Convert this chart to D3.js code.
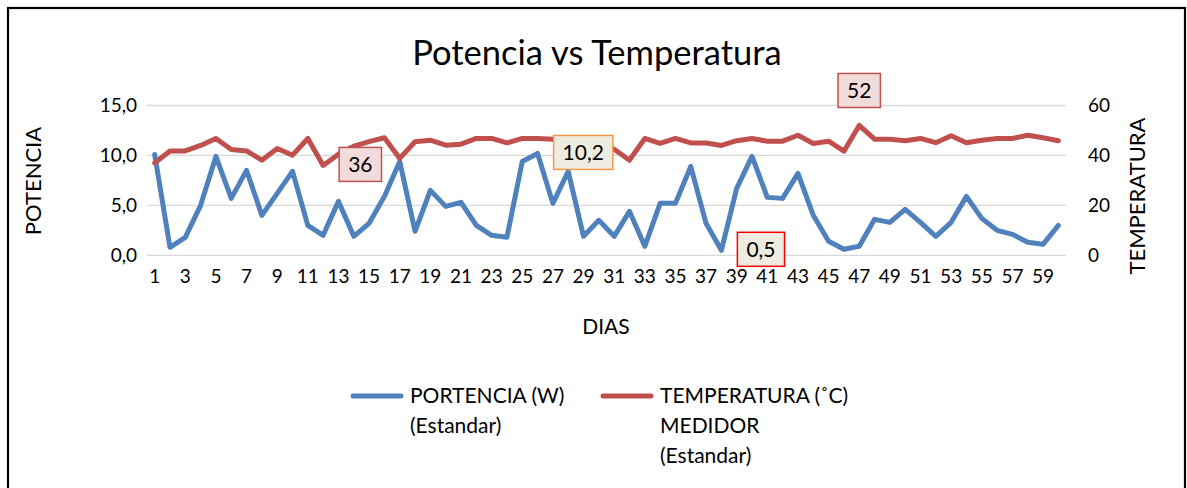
<!DOCTYPE html>
<html>
<head>
<meta charset="utf-8">
<script src="https://cdn.jsdelivr.net/npm/d3@7/dist/d3.min.js"></script>
<style>
  html, body { margin: 0; padding: 0; background: #fff; }
  svg text { font-family: Lato, "Open Sans", sans-serif; fill: #000; }
</style>
</head>
<body>
<svg id="chart" width="1187" height="488"></svg>
<script>
// Days 1..60
const days = d3.range(1, 61);

// Power (W), left axis
const potencia = [
  10.1, 0.8, 1.8, 5.0, 9.9, 5.7, 8.5, 4.0, 6.2, 8.4,
  3.0, 2.0, 5.4, 1.9, 3.2, 5.9, 9.4, 2.4, 6.5, 4.9,
  5.3, 3.0, 2.0, 1.8, 9.4, 10.2, 5.2, 8.4, 1.9, 3.5,
  1.9, 4.4, 0.9, 5.2, 5.2, 8.9, 3.2, 0.5, 6.7, 9.9,
  5.8, 5.7, 8.2, 4.0, 1.4, 0.6, 0.9, 3.6, 3.3, 4.6,
  3.3, 1.9, 3.3, 5.9, 3.7, 2.5, 2.1, 1.3, 1.1, 3.0
];

// Meter temperature (°C), right axis
const temperatura = [
  37.0, 41.8, 41.8, 44.0, 46.8, 42.4, 41.8, 38.1, 42.8, 40.1,
  46.8, 36.0, 40.5, 43.7, 45.5, 47.1, 38.8, 45.5, 46.1, 44.1,
  44.5, 46.8, 46.8, 45.0, 46.8, 46.8, 46.5, 46.3, 45.5, 45.0,
  42.5, 38.1, 46.8, 44.8, 46.8, 45.0, 45.0, 44.0, 45.9, 46.8,
  45.7, 45.7, 48.1, 44.8, 45.7, 41.7, 52.0, 46.5, 46.5, 45.9,
  46.8, 45.1, 47.9, 45.1, 46.1, 46.8, 46.8, 48.1, 47.1, 45.9
];

const leftTicks = [0, 5, 10, 15];
const rightTicks = [0, 20, 40, 60];

// Data labels: series, day, text
const labelSeries = ["temp", "pot", "pot", "temp"];
const labelDays = [12, 26, 38, 47];
const labelTexts = ["36", "10,2", "0,5", "52"];

const svg = d3.select("#chart");

// outer frame
svg.append("rect")
  .attr("x", 8).attr("y", 8)
  .attr("width", 1177).attr("height", 500)
  .attr("fill", "#fff").attr("stroke", "#000").attr("stroke-width", 2.2);

const plot = { left: 147, right: 1066, top: 105.5, bottom: 255.3 };

const x = d3.scaleBand().domain(days).range([plot.left, plot.right]);
const yL = d3.scaleLinear().domain([0, 15]).range([plot.bottom, plot.top]);
const yR = d3.scaleLinear().domain([0, 60]).range([plot.bottom, plot.top]);
const cx = d => x(d) + x.bandwidth() / 2;

// title
svg.append("text")
  .attr("x", 597).attr("y", 65)
  .attr("text-anchor", "middle")
  .attr("font-size", 34.5)
  .text("Potencia vs Temperatura");

// gridlines
svg.append("g").selectAll("line").data(leftTicks).join("line")
  .attr("x1", plot.left).attr("x2", plot.right)
  .attr("y1", d => yL(d)).attr("y2", d => yL(d))
  .attr("stroke", "#d9d9d9").attr("stroke-width", 1.3);

// left axis
const fmt = d3.format(".1f");
const axL = svg.append("g")
  .attr("transform", `translate(${plot.left},0)`)
  .call(d3.axisLeft(yL).tickValues(leftTicks).tickSize(0).tickPadding(10)
    .tickFormat(d => fmt(d).replace(".", ",")));
axL.select(".domain").remove();
axL.selectAll("text").attr("font-size", 19).attr("font-family", "Lato, sans-serif").attr("fill", "#000");

// right axis
const axR = svg.append("g")
  .attr("transform", `translate(${plot.right},0)`)
  .call(d3.axisRight(yR).tickValues(rightTicks).tickSize(0).tickPadding(22));
axR.select(".domain").remove();
axR.selectAll("text").attr("font-size", 19).attr("font-family", "Lato, sans-serif").attr("fill", "#000");

// bottom axis, odd days only
const axB = svg.append("g")
  .attr("transform", `translate(0,${plot.bottom})`)
  .call(d3.axisBottom(x).tickValues(days.filter(d => d % 2 === 1)).tickSize(0).tickPadding(14));
axB.select(".domain").remove();
axB.selectAll("text").attr("font-size", 19).attr("font-family", "Lato, sans-serif").attr("fill", "#000");

// axis titles
svg.append("text")
  .attr("transform", `translate(41,181) rotate(-90)`)
  .attr("text-anchor", "middle").attr("font-size", 22)
  .text("POTENCIA");
svg.append("text")
  .attr("transform", `translate(1145,196) rotate(-90)`)
  .attr("text-anchor", "middle").attr("font-size", 22)
  .text("TEMPERATURA");
svg.append("text")
  .attr("x", 606).attr("y", 334)
  .attr("text-anchor", "middle").attr("font-size", 21)
  .text("DIAS");

// series lines
const lineL = d3.line().x((d, i) => cx(days[i])).y(d => yL(d));
const lineR = d3.line().x((d, i) => cx(days[i])).y(d => yR(d));

svg.append("path").datum(potencia)
  .attr("d", lineL).attr("fill", "none")
  .attr("stroke", "#4f81bd").attr("stroke-width", 5)
  .attr("stroke-linejoin", "round").attr("stroke-linecap", "round");

svg.append("path").datum(temperatura)
  .attr("d", lineR).attr("fill", "none")
  .attr("stroke", "#c0504d").attr("stroke-width", 5)
  .attr("stroke-linejoin", "round").attr("stroke-linecap", "round");

// data labels
const labelStyle = [
  { fill: "#f2dcdb", stroke: "#c0504d", pos: "right" },
  { fill: "#eeece1", stroke: "#f79646", pos: "right" },
  { fill: "#eeece1", stroke: "#ff0000", pos: "right" },
  { fill: "#f2dcdb", stroke: "#c0504d", pos: "above" }
];
labelDays.forEach((day, i) => {
  const series = labelSeries[i] === "pot" ? potencia : temperatura;
  const scale = labelSeries[i] === "pot" ? yL : yR;
  const px = cx(day), py = scale(series[day - 1]);
  const st = labelStyle[i];
  const g = svg.append("g");
  const t = g.append("text").attr("font-size", 21).text(labelTexts[i]);
  const bb = t.node().getBBox();
  const bw = bb.width + 18, bh = 34;
  let bx, by;
  if (st.pos === "right") { bx = px + 16; by = py - bh / 2 - 1; }
  else { bx = px - bw / 2; by = py - 18 - bh; }
  g.insert("rect", "text")
    .attr("x", bx).attr("y", by).attr("width", bw).attr("height", bh)
    .attr("fill", st.fill).attr("stroke", st.stroke).attr("stroke-width", 1.5);
  t.attr("x", bx + bw / 2).attr("y", by + bh / 2 + 7.5).attr("text-anchor", "middle");
});

// legend
const legend = [
  { color: "#4f81bd", x: 353, lines: ["PORTENCIA (W)", "(Estandar)"] },
  { color: "#c0504d", x: 603, lines: ["TEMPERATURA (˚C)", "MEDIDOR", "(Estandar)"] }
];
legend.forEach(item => {
  svg.append("line")
    .attr("x1", item.x).attr("x2", item.x + 48)
    .attr("y1", 396).attr("y2", 396)
    .attr("stroke", item.color).attr("stroke-width", 5).attr("stroke-linecap", "round");
  item.lines.forEach((ln, j) => {
    svg.append("text")
      .attr("x", item.x + 57).attr("y", 403 + j * 30)
      .attr("font-size", 21)
      .text(ln);
  });
});
</script>
</body>
</html>
